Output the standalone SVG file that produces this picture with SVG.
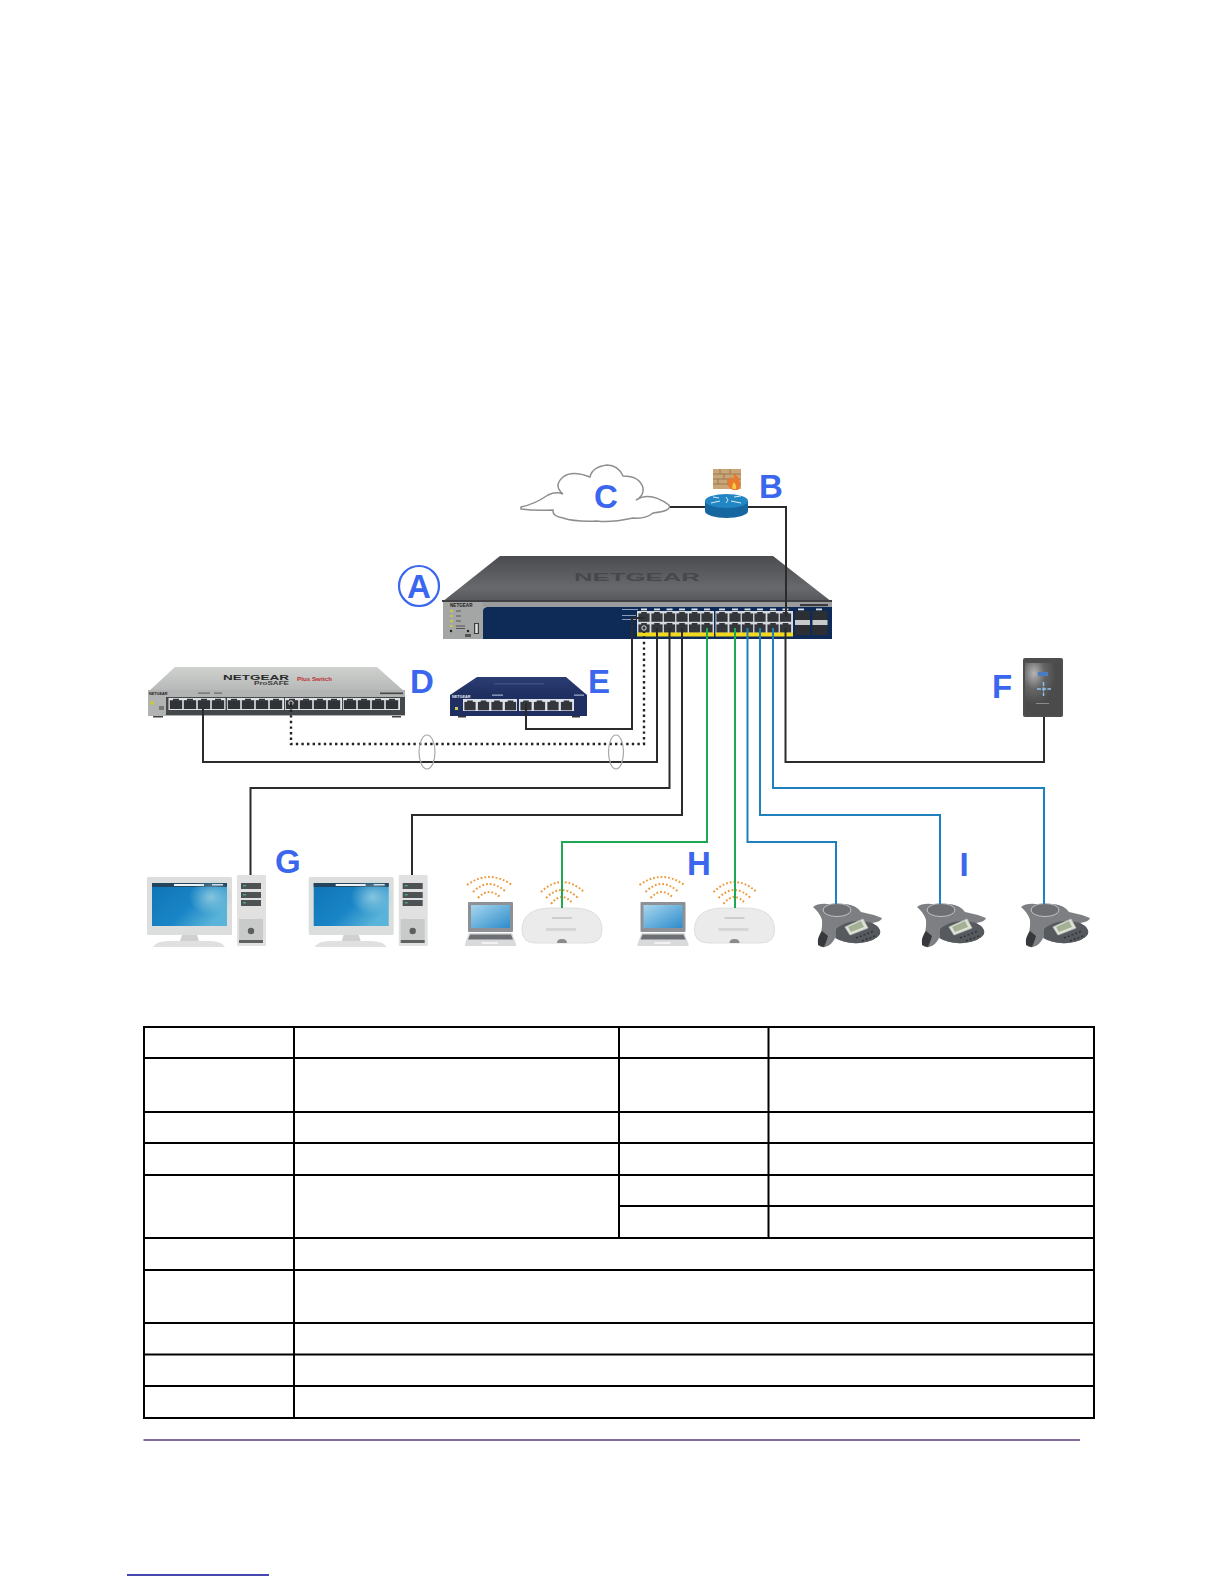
<svg xmlns="http://www.w3.org/2000/svg" xmlns:xlink="http://www.w3.org/1999/xlink" width="1224" height="1584" viewBox="0 0 1224 1584">
<style>
text{font-family:"Liberation Sans",Arial,sans-serif}
.lbl{font-size:33px;font-weight:700;fill:#3a67ee}
.tb{fill:none;stroke:#000;stroke-width:2}
.k{fill:none;stroke:#2b2b2b;stroke-width:2}
.g{fill:none;stroke:#1fa854;stroke-width:2}
.b{fill:none;stroke:#2080bd;stroke-width:2}
.dot{fill:none;stroke:#222;stroke-width:2.4;stroke-dasharray:2.4 3.2}
.ell{fill:none;stroke:#a8a8a8;stroke-width:1.2}
.arc{fill:none;stroke:#ee9a3a;stroke-width:2;stroke-dasharray:1.8 2;stroke-linecap:butt}
.brand{font-weight:700;fill:#1c1c1c}
</style>
<defs>
<linearGradient id="topA" x1="0" y1="0" x2="0" y2="1"><stop offset="0" stop-color="#4b4c50"/><stop offset=".7" stop-color="#68696c"/><stop offset="1" stop-color="#55565a"/></linearGradient>
<linearGradient id="topD" x1="0" y1="0" x2="0" y2="1"><stop offset="0" stop-color="#cfd1cf"/><stop offset="1" stop-color="#b4b7b5"/></linearGradient>
<linearGradient id="topE" x1="0" y1="0" x2="0" y2="1"><stop offset="0" stop-color="#2c3d74"/><stop offset="1" stop-color="#1f2f60"/></linearGradient>
<linearGradient id="scr" x1="0" y1="0" x2="1" y2="0.6"><stop offset="0" stop-color="#0f74b6"/><stop offset=".6" stop-color="#1985c6"/><stop offset="1" stop-color="#5ab4d9"/></linearGradient>
<radialGradient id="fdev" cx=".25" cy=".2" r=".6"><stop offset="0" stop-color="#b5b5b5"/><stop offset=".5" stop-color="#666"/><stop offset="1" stop-color="#4b4b4b"/></radialGradient>
<linearGradient id="lapscr" x1="0" y1="0" x2="1" y2="1"><stop offset="0" stop-color="#a9d6ee"/><stop offset="1" stop-color="#2c8ccb"/></linearGradient>
<radialGradient id="halo" cx=".5" cy=".5" r=".5"><stop offset="0" stop-color="#8fcbe0" stop-opacity=".9"/><stop offset="1" stop-color="#8fcbe0" stop-opacity="0"/></radialGradient>
<g id="pA"><rect x="-5.6" y="-3.600" width="11.2" height="8.400" fill="#33363b"/><rect x="-2.8" y="-5" width="5.6" height="2" fill="#33363b"/></g>
<g id="pD"><rect x="-6.2" y="-3.800" width="12.4" height="8.800" fill="#2f3236"/><rect x="-3" y="-5.200" width="6" height="1.800" fill="#2f3236"/></g>
<g id="computer">
<rect x="147" y="877" width="85" height="58" rx="1.5" fill="#dcdedd"/>
<rect x="152" y="883" width="75" height="43" fill="url(#scr)"/>
<rect x="152" y="883" width="75" height="4" fill="#24455e"/>
<rect x="174" y="884" width="30" height="2" fill="#f1f4f6"/>
<rect x="212" y="884" width="11" height="1.5" fill="#e4e8ea"/>
<ellipse cx="211" cy="897" rx="22" ry="18" fill="url(#halo)"/>
<path d="M182 935h15l2 6h-19z" fill="#cfd1d0"/>
<path d="M153 947q3-6 16-6h40q13 0 16 6z" fill="#dfe0df"/>
<rect x="237" y="875" width="29" height="71" rx="1" fill="#e0e1e0"/>
<rect x="241" y="883" width="20" height="6" fill="#4e5254"/><rect x="241" y="892" width="20" height="6" fill="#4e5254"/><rect x="241" y="900" width="20" height="6" fill="#4e5254"/>
<rect x="243" y="885" width="3" height="1.4" fill="#49b07a"/><rect x="243" y="894" width="3" height="1.4" fill="#49b07a"/><rect x="243" y="902" width="3" height="1.4" fill="#49b07a"/>
<rect x="239" y="919" width="24" height="21" fill="#c9cbca"/>
<circle cx="251" cy="931" r="3.2" fill="#5c5e60"/>
<rect x="239" y="940" width="24" height="3" fill="#5e6062"/>
</g>
<g id="laptop">
<rect x="468" y="902" width="45" height="30" rx="1" fill="#8d9094"/>
<rect x="471" y="905" width="39" height="23" fill="url(#lapscr)"/>
<path d="M469 933h43l4 11v2h-51v-2z" fill="#d8dadb"/>
<path d="M470 934.500h41l2 5h-45z" fill="#6c6f73"/>
<rect x="482" y="942" width="16" height="2" fill="#f2f2f2"/>
<path class="arc" d="M467 885Q489 869 512 885"/>
<path class="arc" d="M473 892Q489 876 506 892"/>
<path class="arc" d="M478 898Q489 886 501 898"/>
</g>
<g id="ap">
<path d="M522 930Q522 908 552 908H572Q602 908 602 930Q602 943 588 943H536Q522 943 522 930Z" fill="#ebebeb" stroke="#dedede"/>
<rect x="552" y="917" width="20" height="2" fill="#cdcdcd"/>
<rect x="546" y="928" width="30" height="3" fill="#d6d6d6"/>
<path d="M557 943q0-4 5-4t5 4z" fill="#8a8a8a"/>
<path class="arc" d="M541 892Q562 872 584 892"/>
<path class="arc" d="M546 898Q562 882 578 898"/>
<path class="arc" d="M551 904Q562 890 573 904"/>
</g>
<g id="phone">
<path d="M813 907Q818 903 828 904H846Q856 905 861 912Q872 914 882 918Q881 922 872 923Q882 928 880 934Q876 941 860 943Q845 944 835 938Q832 945 825 947Q817 948 818 941Q823 930 822 920Q820 913 813 907Z" fill="#7d7f82"/>
<ellipse cx="837" cy="910" rx="14" ry="6.500" fill="#6d6f72" stroke="#bfc1c2" stroke-width="1"/>
<path d="M836 929Q850 917 872 923Q882 928 880 934Q876 941 860 943Q845 944 836 938Z" fill="#565a5e"/>
<path d="M845 927l18-8 5 9-18 7z" fill="#dfe2d6" stroke="#c4c6bf" stroke-width=".8"/>
<path d="M848 927l13-6 3 6-13 5z" fill="#a3b094"/>
<path d="M856 938l18-7M862 941l15-6" stroke="#2f3236" stroke-width="1.400" stroke-dasharray="2 2" fill="none"/>
<path d="M818 945Q817 937 822 931L828 936Q826 943 824 947Z" fill="#36383b"/>
</g>
</defs>
<rect width="1224" height="1584" fill="#fff"/>

<g id="node-A">
<path d="M500 556H773L832 602H442Z" fill="url(#topA)"/>
<text x="574" y="580.500" font-size="11.500" font-weight="700" fill="#47484b" textLength="126" lengthAdjust="spacingAndGlyphs">NETGEAR</text>
<rect x="442" y="600" width="390" height="2" fill="#3f4043"/>
<rect x="443" y="602" width="389" height="37" fill="#0e2a56"/>
<rect x="443" y="602" width="389" height="5" fill="#9a9c9e"/>
<rect x="443" y="602" width="40" height="37" fill="#a4a6a5"/>
<path d="M483 607h4q-4 1-4 4z" fill="#a4a6a5"/>
<text x="450" y="607" font-size="4.600" class="brand">NETGEAR</text>
<g fill="#c9c64a"><rect x="450" y="610" width="3" height="2"/><rect x="450" y="615" width="3" height="2"/><rect x="450" y="620" width="3" height="2"/><rect x="450" y="625" width="3" height="2"/></g>
<g fill="#555"><rect x="456" y="610.500" width="5" height="1"/><rect x="456" y="615.500" width="5" height="1"/><rect x="456" y="620.500" width="5" height="1"/><rect x="456" y="625.500" width="9" height="1"/><rect x="456" y="628" width="9" height="1"/></g>
<rect x="474" y="623" width="5" height="11" fill="#3a3c40"/><rect x="475.200" y="624" width="2.600" height="9" fill="#ddd"/>
<rect x="465" y="634" width="6" height="3" fill="#555"/>
<circle cx="451" cy="631" r="1.200" fill="#222"/><circle cx="468" cy="631" r="1.200" fill="#222"/>
<rect x="622" y="609" width="16" height="1" fill="#8c9db8"/><rect x="622" y="615" width="14" height="1" fill="#8c9db8"/><rect x="622" y="619" width="14" height="1" fill="#8c9db8"/>
<rect x="800" y="604" width="28" height="2.200" fill="#3b3c3f"/>
<rect x="637" y="611" width="77" height="23" fill="#d6d9dd"/>
<rect x="715.500" y="611" width="77.500" height="23" fill="#d6d9dd"/>
<g id="a-up">
<use href="#pA" x="644" y="617"/><use href="#pA" x="657" y="617"/><use href="#pA" x="669.500" y="617"/><use href="#pA" x="682" y="617"/><use href="#pA" x="694.600" y="617"/><use href="#pA" x="707" y="617"/>
<use href="#pA" x="722" y="617"/><use href="#pA" x="735" y="617"/><use href="#pA" x="747.500" y="617"/><use href="#pA" x="760" y="617"/><use href="#pA" x="773" y="617"/><use href="#pA" x="785.500" y="617"/>
</g>
<g id="a-low">
<use href="#pA" x="644" y="628"/><use href="#pA" x="657" y="628"/><use href="#pA" x="669.500" y="628"/><use href="#pA" x="682" y="628"/><use href="#pA" x="694.600" y="628"/><use href="#pA" x="707" y="628"/>
<use href="#pA" x="722" y="628"/><use href="#pA" x="735" y="628"/><use href="#pA" x="747.500" y="628"/><use href="#pA" x="760" y="628"/><use href="#pA" x="773" y="628"/><use href="#pA" x="785.500" y="628"/>
</g>
<rect x="637" y="632.500" width="77" height="4" fill="#f2d81e"/><rect x="715.500" y="632.500" width="77.500" height="4" fill="#f2d81e"/>
<g fill="#d8dce2">
<rect x="641" y="608.500" width="6" height="1.800"/><rect x="654" y="608.500" width="6" height="1.800"/><rect x="666.500" y="608.500" width="6" height="1.800"/><rect x="679" y="608.500" width="6" height="1.800"/><rect x="691.500" y="608.500" width="6" height="1.800"/><rect x="704" y="608.500" width="6" height="1.800"/>
<rect x="719" y="608.500" width="6" height="1.800"/><rect x="732" y="608.500" width="6" height="1.800"/><rect x="744.500" y="608.500" width="6" height="1.800"/><rect x="757" y="608.500" width="6" height="1.800"/><rect x="770" y="608.500" width="6" height="1.800"/><rect x="782.500" y="608.500" width="6" height="1.800"/>
<rect x="798" y="608.500" width="6" height="1.800"/><rect x="816" y="608.500" width="6" height="1.800"/>
</g>
<circle cx="644" cy="628" r="2.200" fill="none" stroke="#ddd" stroke-width="1"/>
<rect x="795" y="611" width="15" height="24" fill="#2b2e33"/><rect x="812.500" y="611" width="15" height="24" fill="#2b2e33"/>
<rect x="795" y="620" width="15" height="5" fill="#c7c9cb"/><rect x="812.500" y="620" width="15" height="5" fill="#c7c9cb"/>
<circle cx="419" cy="586" r="20" fill="none" stroke="#3a67ee" stroke-width="2.200"/>
<text x="419" y="598" text-anchor="middle" class="lbl">A</text>
</g>

<g id="node-B">
<rect x="713" y="469" width="28" height="20" fill="#c9a577"/>
<path d="M713 474h28M713 479h28M713 484h28M720 469v5M730 469v5M724 474v5M735 474v5M718 479v5M728 479v5" stroke="#8f6f4c" stroke-width=".8" fill="none"/>
<path d="M733 490q-7-3-5-10 1-2 3-3 0 2 2 3 1-3 1-7 6 5 6 12 0 3-2 5z" fill="#e9792b"/>
<path d="M733 489q-2-3 1-7 3 4 2 7z" fill="#f7cb46"/>
<path d="M705 501V511A21.500 7 0 0 0 748 511V501Z" fill="#16669f"/>
<ellipse cx="726.500" cy="501" rx="21.500" ry="7" fill="#2286c4"/>
<path d="M711 503l9-2M719 498l-6-1M731 501l10 2M734 497l7-1M726 497l2 3-2 3" stroke="#d6ecf7" stroke-width="1" fill="none"/>
<text x="759" y="498" class="lbl">B</text>
</g>

<g id="node-C">
<path d="M521 507Q535 504 548 495Q556 491 563 494Q553 486 563 477Q572 470 590 477Q592 467 607 465Q618 465 623 476Q640 476 643 488Q644 496 636 500Q650 491 669 505Q672 511 653 513Q646 519 633 518Q610 523 597 521Q575 522 563 518Q552 516 553 510Q535 511 521 509Z" fill="#fff" stroke="#8e8e8e" stroke-width="1.500"/>
<text x="594" y="508" class="lbl">C</text>
</g>

<g id="node-D">
<path d="M175 667H377L405 692H148Z" fill="url(#topD)"/>
<text x="223" y="680" font-size="7.500" font-weight="700" fill="#2a2a2a" textLength="66" lengthAdjust="spacingAndGlyphs">NETGEAR</text>
<text x="254" y="684.500" font-size="5" font-weight="700" fill="#3a3a3a" textLength="35" lengthAdjust="spacingAndGlyphs">ProSAFE</text>
<text x="297" y="681" font-size="5" font-weight="700" fill="#b33" textLength="35" lengthAdjust="spacingAndGlyphs">Plus Switch</text>
<rect x="148" y="690" width="257" height="26" fill="#b0b3b1"/>
<rect x="166" y="697" width="239" height="18" fill="#45484b"/>
<text x="149" y="695" font-size="3.800" class="brand">NETGEAR</text>
<rect x="380" y="692.500" width="23" height="1.600" fill="#444"/>
<rect x="198" y="692.500" width="12" height="1.200" fill="#666"/><rect x="214" y="692.500" width="8" height="1.200" fill="#666"/>
<circle cx="152" cy="703" r="2" fill="#c7cc3f"/><rect x="159" y="706" width="5" height="4" fill="#777"/>
<rect x="168.500" y="698" width="57" height="12" fill="#e0e2e3"/><rect x="227" y="698" width="57" height="12" fill="#e0e2e3"/><rect x="285" y="698" width="57" height="12" fill="#e0e2e3"/><rect x="343" y="698" width="57" height="12" fill="#e0e2e3"/>
<use href="#pD" x="176" y="704"/><use href="#pD" x="190" y="704"/><use href="#pD" x="204" y="704"/><use href="#pD" x="218" y="704"/>
<use href="#pD" x="234" y="704"/><use href="#pD" x="248" y="704"/><use href="#pD" x="262" y="704"/><use href="#pD" x="276" y="704"/>
<use href="#pD" x="292" y="704"/><use href="#pD" x="306" y="704"/><use href="#pD" x="320" y="704"/><use href="#pD" x="334" y="704"/>
<use href="#pD" x="350" y="704"/><use href="#pD" x="364" y="704"/><use href="#pD" x="378" y="704"/><use href="#pD" x="392" y="704"/>
<rect x="153" y="716" width="10" height="1.500" fill="#444"/><rect x="392" y="716" width="9" height="1.500" fill="#444"/>
<circle cx="291" cy="703" r="2.200" fill="none" stroke="#ddd" stroke-width="1"/>
<text x="410" y="693" class="lbl">D</text>
</g>

<g id="node-E">
<path d="M477 677H566L587 695H450Z" fill="url(#topE)"/>
<rect x="494" y="683" width="50" height="1.500" fill="#3d4e85"/>
<rect x="450" y="695" width="137" height="21" fill="#1f2f62"/>
<text x="452" y="698" font-size="3.800" font-weight="700" fill="#e4e7ef">NETGEAR</text>
<rect x="492" y="694.500" width="11" height="1.300" fill="#9aa5c5"/><rect x="574" y="694.500" width="10" height="1.300" fill="#9aa5c5"/>
<rect x="455" y="707" width="3" height="3" fill="#c9cc55"/>
<rect x="463" y="699" width="54" height="12" fill="#dfe2ea"/><rect x="519" y="699" width="55" height="12" fill="#dfe2ea"/>
<use href="#pA" x="470" y="705.500"/><use href="#pA" x="483.500" y="705.500"/><use href="#pA" x="497" y="705.500"/><use href="#pA" x="510.500" y="705.500"/>
<use href="#pA" x="526" y="705.500"/><use href="#pA" x="539.500" y="705.500"/><use href="#pA" x="553" y="705.500"/><use href="#pA" x="566.500" y="705.500"/>
<rect x="458" y="716" width="8" height="1.500" fill="#333"/><rect x="572" y="716" width="8" height="1.500" fill="#333"/>
<text x="588" y="693" class="lbl">E</text>
</g>

<g id="node-F">
<rect x="1023" y="658" width="40" height="59" rx="2" fill="#4e4e4e"/>
<rect x="1025" y="663" width="36" height="52" fill="url(#fdev)"/>
<rect x="1038" y="672" width="10" height="4" fill="#4a7bc4"/>
<path d="M1037 689H1051M1043.500 682V696" stroke="#8fc0f0" stroke-width="1.500" stroke-dasharray="4 1.200" fill="none"/>
<rect x="1036" y="703" width="13" height="1" fill="#8b8b8b"/>
<text x="992" y="698" class="lbl">F</text>
</g>

<g id="node-G">
<use href="#computer"/>
<use href="#computer" x="161.700"/>
<text x="275" y="873" class="lbl">G</text>
</g>

<g id="node-H">
<use href="#laptop"/><use href="#ap"/>
<use href="#laptop" x="172.500"/><use href="#ap" x="172.500"/>
<text x="687" y="875" class="lbl">H</text>
</g>

<g id="node-I">
<use href="#phone"/><use href="#phone" x="104"/><use href="#phone" x="208"/>
<text x="964" y="876" text-anchor="middle" class="lbl">I</text>
</g>

<g id="connectors">
<path class="k" d="M670 507H705"/>
<path class="k" d="M748 507H786V617"/>
<path class="k" d="M785.500 628V762H1044V717"/>
<path class="k" d="M526 703V729H632V618H645"/>
<path class="k" d="M203 708V762H657V628"/>
<path class="dot" d="M291 704V744H644V632"/>
<path class="k" d="M250.500 875V788H669.500V628"/>
<path class="k" d="M412 875V815H682V628"/>
<path class="g" d="M562 908V842H707V628"/>
<path class="g" d="M735 908V628"/>
<path class="b" d="M836 904V842H747.500V628"/>
<path class="b" d="M940 904V815H760V628"/>
<path class="b" d="M1044 904V788H773V628"/>
<ellipse class="ell" cx="427" cy="752" rx="8" ry="17"/>
<ellipse class="ell" cx="616" cy="752" rx="7.500" ry="17"/>
</g>

<g id="table">
<rect class="tb" x="144" y="1027" width="950" height="391"/>
<path class="tb" d="M144 1058H1094M144 1112H1094M144 1143H1094M144 1175H1094M619 1206H1094M144 1238H1094M144 1270H1094M144 1323H1094M144 1354.500H1094M144 1386H1094"/>
<path class="tb" d="M294 1027V1418M619 1027V1238M768.500 1027V1238"/>
</g>
<path d="M143.500 1440H1080" stroke="#5b3b80" stroke-width="1.300" fill="none"/>
<path d="M127 1575H269" stroke="#0a0a96" stroke-width="1.300" fill="none"/>
</svg>
